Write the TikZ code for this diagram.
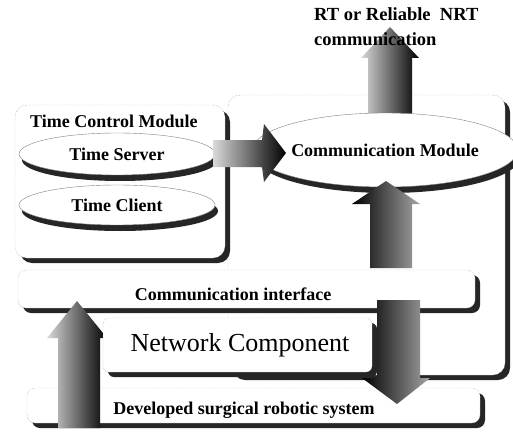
\documentclass[tikz,border=0pt]{standalone}
\usepackage{fontspec}
\setmainfont{Liberation Serif}
\usetikzlibrary{shapes.geometric,shadows}
\begin{document}
\begin{tikzpicture}[x=1pt,y=-1pt,
  shadowed/.style={drop shadow={shadow xshift=5pt, shadow yshift=-5pt, fill=black!85, opacity=1}},
  panel/.style={draw=black!45, densely dotted, fill=white, rounded corners=12pt, shadowed, inner sep=0pt},
  bar/.style={draw=black!45, densely dotted, fill=white, rounded corners=8pt, shadowed, inner sep=0pt},
  ell/.style={ellipse, draw=black!50, fill=white, inner sep=0pt, drop shadow={shadow xshift=3pt, shadow yshift=-6pt, fill=black!85, opacity=1}, font=\fontsize{18}{20}\selectfont\bfseries},
  lbl/.style={font=\fontsize{18}{20}\selectfont\bfseries, inner sep=0pt},
  lightdark/.style={left color=black!15, right color=black},
  darklight/.style={left color=black, right color=black!35},
]
\useasboundingbox (0,0) rectangle (513,441);

% Communication module panel
\node[panel, minimum width=277pt, minimum height=280pt] (cmp) at (366.5,235) {};
% Time control module panel
\node[panel, minimum width=210pt, minimum height=153pt] (tcm) at (120,181.5) {};
\node[lbl, anchor=west] (tcmlbl) at (30,121) {Time Control Module};

% arrow up out of communication module
\shade[lightdark] (368,132) -- (368,58) -- (361,58) -- (390,27) -- (419,58) -- (412,58) -- (412,132) -- cycle;

% ellipses
\node[ell, minimum width=236pt, minimum height=74pt] (cm) at (385,150) {Communication Module};
\node[ell, minimum width=196pt, minimum height=42pt] (ts) at (117,154) {Time Server};
\node[ell, minimum width=196pt, minimum height=40pt] (tc) at (117,205) {Time Client};

% arrow time control -> communication module
\shade[lightdark] (213,140) -- (262,140) -- (264,124) -- (286,153) -- (264,182) -- (262,167) -- (213,167) -- cycle;

% arrow interface -> communication module
\shade[darklight] (370,268) -- (370,204) -- (352,204) -- (386,181) -- (420,204) -- (412,204) -- (412,268) -- cycle;

% bars
\node[bar, minimum width=457pt, minimum height=38pt] (ci) at (246.5,289) {};
\node[lbl] (cilbl) at (233,294) {Communication interface};
\node[bar, minimum width=453pt, minimum height=35pt] (ds) at (253.5,405.5) {};
\node[lbl] (dslbl) at (244,410) {Developed surgical robotic system};

% left up arrow
\shade[lightdark] (58,428) -- (58,338) -- (47,338) -- (77,301) -- (107,338) -- (100,338) -- (100,428) -- cycle;
% right down arrow
\shade[darklight] (377,300) -- (377,378) -- (362,378) -- (397,404) -- (430,378) -- (420,378) -- (420,300) -- cycle;

% network component
\node[bar, rounded corners=6pt, minimum width=269pt, minimum height=54pt, font=\fontsize{26}{28}\selectfont] (nc) at (237.5,345) {\hspace{5pt}Network Component};

% top label
\node[lbl, anchor=north west, align=left, font=\fontsize{18.5}{25}\selectfont\bfseries] (rt) at (314,7) {RT or Reliable\ \ NRT\\communication};
\end{tikzpicture}
\end{document}
